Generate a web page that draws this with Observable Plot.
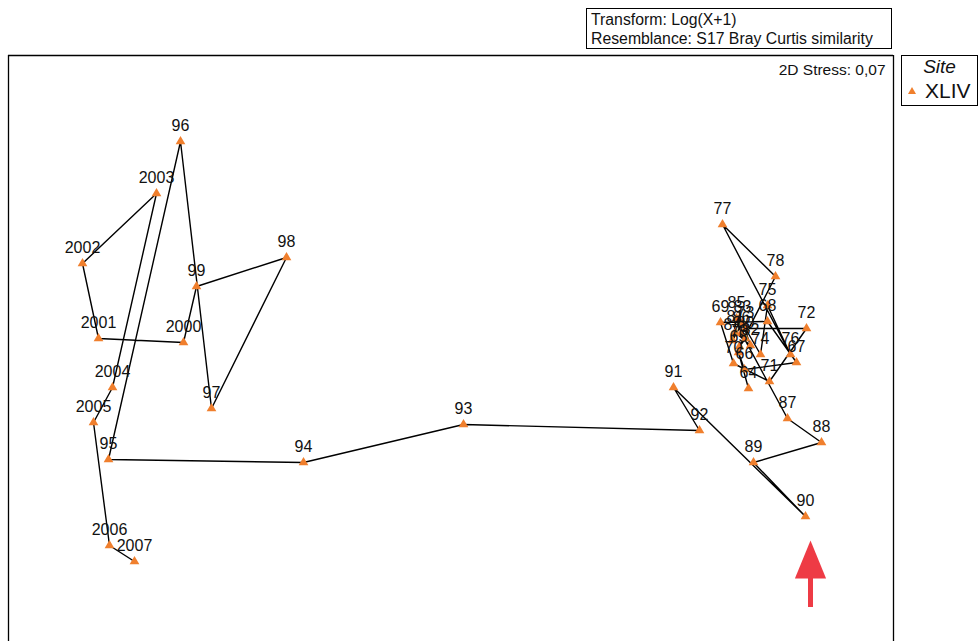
<!DOCTYPE html>
<html>
<head>
<meta charset="utf-8">
<script src="https://cdn.jsdelivr.net/npm/d3@7"></script>
<script src="https://cdn.jsdelivr.net/npm/@observablehq/plot@0.6"></script>
<style>
  html, body { margin: 0; padding: 0; background: #fff; overflow: hidden; }
  #wrap { position: relative; width: 980px; height: 641px; font-family: "Liberation Sans", Arial, sans-serif; }
  #wrap svg { position: absolute; left: 0; top: 0; }
  .box { position: absolute; border: 1px solid #000; background: #fff; color: #111; box-sizing: border-box; }
  #info { left: 586px; top: 8px; width: 306px; height: 41px; font-size: 15.8px; line-height: 19px; padding: 1px 0 0 4px; white-space: nowrap; }
  #legend { left: 901px; top: 55px; width: 77px; height: 51px; text-align: left; }
  #legend .t { font-style: italic; font-size: 19px; text-align: center; margin-top: 0px; line-height: 22px; }
  #legend .row { font-size: 21px; line-height: 24px; margin-top: 1px; padding-left: 6px; white-space: nowrap; }
  #legend .tri { display: inline-block; width: 0; height: 0; border-left: 4px solid transparent; border-right: 4px solid transparent; border-bottom: 7px solid #f07f2d; margin-right: 9px; vertical-align: 4px; }
</style>
</head>
<body>
<div id="wrap">
  <div class="box" id="info">Transform: Log(X+1)<br>Resemblance: S17 Bray Curtis similarity</div>
  <div class="box" id="legend"><div class="t">Site</div><div class="row"><span class="tri"></span>XLIV</div></div>
</div>
<script>
// Sample years (in temporal order) and their nMDS coordinates (arbitrary MDS units)
const years = ["64","65","66","67","68","69","70","71","72","73","74","75","76","77","78","79","80","81","82","83","84","85","86","87","88","89","90","91","92","93","94","95","96","97","98","99","2000","2001","2002","2003","2004","2005","2006","2007"];
const mdsX = [2.98,2.88,2.94,3.46,3.17,2.70,2.83,3.19,3.56,2.95,3.10,3.17,3.40,2.72,3.25,2.89,2.95,2.85,3.00,2.92,2.82,2.86,2.91,3.37,3.71,3.03,3.55,2.23,2.49,0.13,-1.47,-3.42,-2.70,-2.39,-1.64,-2.54,-2.67,-3.52,-3.68,-2.94,-3.38,-3.57,-3.41,-3.16];
const mdsY = [-0.38,-0.02,-0.19,-0.12,0.29,0.28,-0.13,-0.31,0.22,0.22,-0.04,0.45,-0.04,1.26,0.74,0.04,0.12,0.18,0.05,0.28,0.10,0.32,0.17,-0.68,-0.92,-1.12,-1.66,-0.37,-0.80,-0.74,-1.12,-1.09,2.09,-0.58,0.93,0.64,0.08,0.12,0.87,1.57,-0.37,-0.72,-1.95,-2.11];
const stressText = "2D Stress: 0,07";
// Red pointer annotation (tip base and tail, in MDS units)
const pointer = [{x: 3.60, yBase: -2.28, yTail: -2.57}];

const data = years.map((label, i) => ({label, i, x: mdsX[i], y: mdsY[i]}));

const xDomain = [-4.42, 4.43];
const yDomain = [-2.91, 2.95];

const arrowHead = {
  draw(ctx, size) {
    const k = Math.sqrt(size / Math.PI);
    ctx.moveTo(0, -k);
    ctx.lineTo(0.41 * k, 0);
    ctx.lineTo(-0.41 * k, 0);
    ctx.closePath();
  }
};

const chart = Plot.plot({
  width: 980,
  height: 641,
  marginLeft: 8,
  marginRight: 87,
  marginTop: 55,
  marginBottom: 0,
  x: {domain: xDomain, axis: null},
  y: {domain: yDomain, axis: null},
  style: {fontFamily: "Liberation Sans, Arial, sans-serif", background: "transparent"},
  marks: [
    Plot.ruleX([xDomain[0]], {stroke: "#000", strokeWidth: 1.3}),
    Plot.ruleX([xDomain[1]], {stroke: "#000", strokeWidth: 1.3}),
    Plot.ruleY([yDomain[1]], {stroke: "#000", strokeWidth: 1.3}),
    Plot.text([stressText], {frameAnchor: "top-right", dx: -8, dy: 8, fontSize: 15.5, fill: "#111"}),
    Plot.line(data, {x: "x", y: "y", sort: "i", stroke: "#000", strokeWidth: 1.4, curve: "linear"}),
    Plot.dot(data, {x: "x", y: "y", symbol: "triangle", r: 3.6, fill: "#f07f2d", stroke: "none"}),
    Plot.text(data, {x: "x", y: "y", text: "label", dy: -16, fontSize: 16, fill: "#111"}),
    Plot.ruleX(pointer, {x: "x", y1: "yBase", y2: "yTail", stroke: "#ee3b45", strokeWidth: 5}),
    Plot.dot(pointer, {x: "x", y: "yBase", symbol: arrowHead, r: 38, fill: "#ee3b45", stroke: "none"})
  ]
});

document.getElementById("wrap").prepend(chart);
</script>
</body>
</html>
